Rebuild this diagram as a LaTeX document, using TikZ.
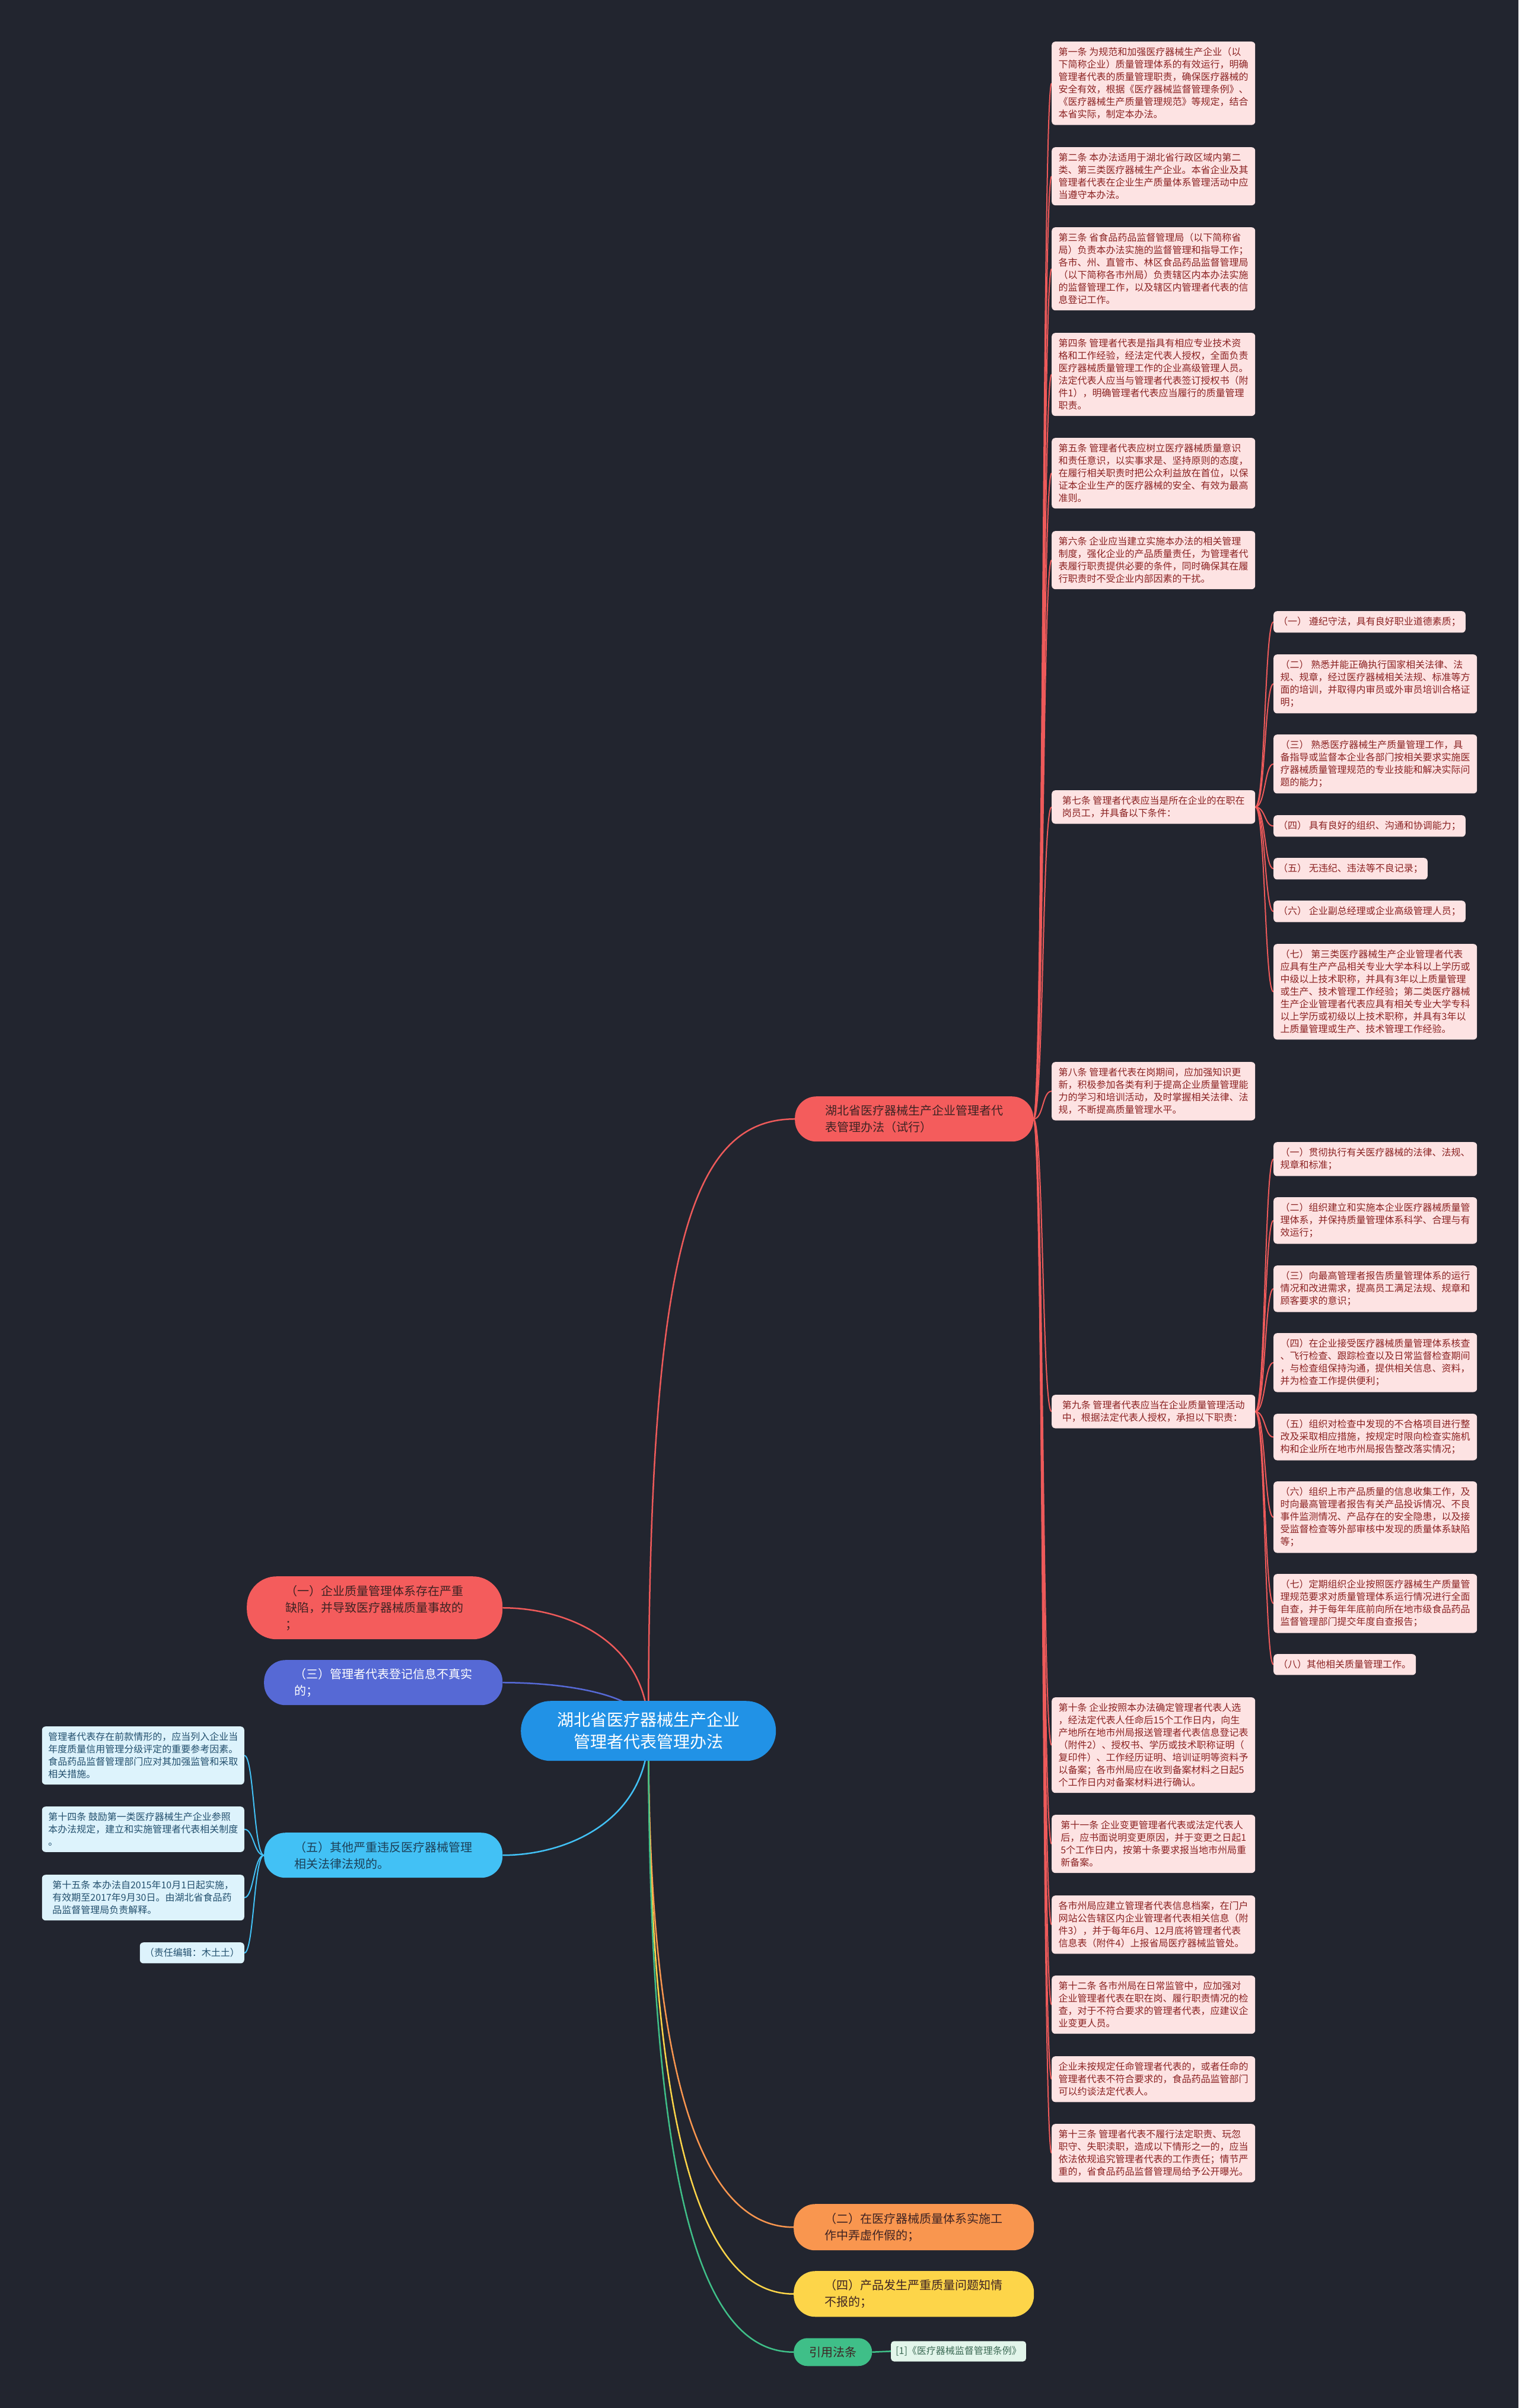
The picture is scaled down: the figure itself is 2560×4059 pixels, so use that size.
\documentclass[tikz,border=0pt]{standalone}
\usepackage{fontspec}
\newfontfamily\cjk{Noto Sans CJK SC}
\definecolor{bgc}{HTML}{22252F}
\definecolor{pinkfill}{HTML}{FDE3E3}
\definecolor{pinktext}{HTML}{8B2222}
\definecolor{redline}{HTML}{EE5A5A}
\definecolor{rednode}{HTML}{F45C5C}
\definecolor{rootblue}{HTML}{2192E6}
\definecolor{indigoc}{HTML}{5669D5}
\definecolor{skyc}{HTML}{42C1F5}
\definecolor{orangec}{HTML}{F9964F}
\definecolor{yellowc}{HTML}{FDD549}
\definecolor{greenc}{HTML}{3FBF88}
\definecolor{cyanfill}{HTML}{DDF3FC}
\definecolor{cyantext}{HTML}{23506E}
\definecolor{mintfill}{HTML}{E2F5EA}
\definecolor{minttext}{HTML}{3D6B56}
\definecolor{darkred}{HTML}{3E2323}
\pgfdeclarelayer{bgl}
\pgfdeclarelayer{edges}
\pgfsetlayers{bgl,edges,main}
\tikzset{
  art/.style={anchor=north west, fill=pinkfill, text=pinktext, rounded corners=6pt,
    inner xsep=8pt, inner ysep=10pt, align=left, font=\cjk\fontsize{16pt}{21pt}\selectfont},
  artw/.style={art, minimum width=343pt},
  note/.style={anchor=north east, fill=cyanfill, text=cyantext, rounded corners=6pt,
    inner xsep=8pt, inner ysep=10pt, align=left, font=\cjk\fontsize{16pt}{21pt}\selectfont},
  notew/.style={note, minimum width=341pt},
  pill/.style={anchor=north west, rounded corners=36pt, inner sep=0pt, align=left,
    font=\cjk\fontsize{20pt}{28pt}\selectfont},
  rl/.style={draw=redline, line width=2pt},
  rootl/.style={line width=2.5pt},
}
\begin{document}
\begin{tikzpicture}[x=1pt,y=-1pt]
\begin{pgfonlayer}{bgl}
\fill[bgc] (0,0) rectangle (2560,4059);
\end{pgfonlayer}
\useasboundingbox (0,0) rectangle (2560,4059);

% root
\node[anchor=north west, fill=rootblue, text=white, rounded corners=50pt, minimum width=430pt,
  minimum height=101pt, align=center, inner sep=0pt, font=\cjk\fontsize{28pt}{37pt}\selectfont]
  (root) at (878,2867) {湖北省医疗器械生产企业\\管理者代表管理办法};

% main branches
\node[pill, fill=rednode, text=darkred, minimum width=402pt, minimum height=76pt] (mr) at (1340,1848)
  {湖北省医疗器械生产企业管理者代\\表管理办法（试行）};
\node[pill, fill=rednode, text=darkred, minimum width=431pt, minimum height=106pt, rounded corners=50pt] (one) at (416,2657)
  {（一）企业质量管理体系存在严重\\缺陷，并导致医疗器械质量事故的\\；};
\node[pill, fill=indigoc, text=white, minimum width=402pt, minimum height=76pt] (three) at (445,2798)
  {（三）管理者代表登记信息不真实\\的；};
\node[pill, fill=skyc, text=cyantext!80!black, minimum width=402pt, minimum height=76pt] (five) at (445,3089)
  {（五）其他严重违反医疗器械管理\\相关法律法规的。};
\node[pill, fill=orangec, text=darkred, minimum width=405pt, minimum height=78pt] (two) at (1338,3715)
  {（二）在医疗器械质量体系实施工\\作中弄虚作假的；};
\node[pill, fill=yellowc, text=darkred, minimum width=405pt, minimum height=77pt] (four) at (1338,3828)
  {（四）产品发生严重质量问题知情\\不报的；};
\node[pill, fill=greenc, text=darkred, minimum width=132pt, minimum height=47pt, rounded corners=23pt, align=center] (cite) at (1338,3941)
  {引用法条};
\node[anchor=north west, fill=mintfill, text=minttext, rounded corners=5pt, inner xsep=8pt, inner ysep=9pt,
  font=\cjk\fontsize{16pt}{21pt}\selectfont] (ref1) at (1502,3946) {[1]《医疗器械监督管理条例》};

% right column
\node[artw] (a1) at (1773,70) {第一条 为规范和加强医疗器械生产企业（以\\下简称企业）质量管理体系的有效运行，明确\\管理者代表的质量管理职责，确保医疗器械的\\安全有效，根据《医疗器械监督管理条例》、\\《医疗器械生产质量管理规范》等规定，结合\\本省实际，制定本办法。};
\node[artw] (a2) at (1773,248) {第二条 本办法适用于湖北省行政区域内第二\\类、第三类医疗器械生产企业。本省企业及其\\管理者代表在企业生产质量体系管理活动中应\\当遵守本办法。};
\node[artw] (a3) at (1773,383) {第三条 省食品药品监督管理局（以下简称省\\局）负责本办法实施的监督管理和指导工作；\\各市、州、直管市、林区食品药品监督管理局\\（以下简称各市州局）负责辖区内本办法实施\\的监督管理工作，以及辖区内管理者代表的信\\息登记工作。};
\node[artw] (a4) at (1773,561) {第四条 管理者代表是指具有相应专业技术资\\格和工作经验，经法定代表人授权，全面负责\\医疗器械质量管理工作的企业高级管理人员。\\法定代表人应当与管理者代表签订授权书（附\\件1），明确管理者代表应当履行的质量管理\\职责。};
\node[artw] (a5) at (1773,738) {第五条 管理者代表应树立医疗器械质量意识\\和责任意识，以实事求是、坚持原则的态度，\\在履行相关职责时把公众利益放在首位，以保\\证本企业生产的医疗器械的安全、有效为最高\\准则。};
\node[artw] (a6) at (1773,895) {第六条 企业应当建立实施本办法的相关管理\\制度，强化企业的产品质量责任，为管理者代\\表履行职责提供必要的条件，同时确保其在履\\行职责时不受企业内部因素的干扰。};
\node[artw] (a7) at (1773,1332) {第七条 管理者代表应当是所在企业的在职在\\岗员工，并具备以下条件：};
\node[artw] (a8) at (1773,1790) {第八条 管理者代表在岗期间，应加强知识更\\新，积极参加各类有利于提高企业质量管理能\\力的学习和培训活动，及时掌握相关法律、法\\规，不断提高质量管理水平。};
\node[artw] (a9) at (1773,2351) {第九条 管理者代表应当在企业质量管理活动\\中，根据法定代表人授权，承担以下职责：};
\node[artw] (a10) at (1773,2861) {第十条 企业按照本办法确定管理者代表人选\\，经法定代表人任命后15个工作日内，向生\\产地所在地市州局报送管理者代表信息登记表\\（附件2）、授权书、学历或技术职称证明（\\复印件）、工作经历证明、培训证明等资料予\\以备案；各市州局应在收到备案材料之日起5\\个工作日内对备案材料进行确认。};
\node[artw] (a11) at (1773,3059) {第十一条 企业变更管理者代表或法定代表人\\后，应书面说明变更原因，并于变更之日起1\\5个工作日内，按第十条要求报当地市州局重\\新备案。};
\node[artw] (a12) at (1773,3195) {各市州局应建立管理者代表信息档案，在门户\\网站公告辖区内企业管理者代表相关信息（附\\件3），并于每年6月、12月底将管理者代表\\信息表（附件4）上报省局医疗器械监管处。};
\node[artw] (a13) at (1773,3330) {第十二条 各市州局在日常监管中，应加强对\\企业管理者代表在职在岗、履行职责情况的检\\查，对于不符合要求的管理者代表，应建议企\\业变更人员。};
\node[artw] (a14) at (1773,3466) {企业未按规定任命管理者代表的，或者任命的\\管理者代表不符合要求的，食品药品监管部门\\可以约谈法定代表人。};
\node[artw] (a15) at (1773,3580) {第十三条 管理者代表不履行法定职责、玩忽\\职守、失职渎职，造成以下情形之一的，应当\\依法依规追究管理者代表的工作责任；情节严\\重的，省食品药品监督管理局给予公开曝光。};

% article 7 items
\node[art] (s1) at (2147,1030) {（一） 遵纪守法，具有良好职业道德素质；};
\node[artw] (s2) at (2147,1103) {（二） 熟悉并能正确执行国家相关法律、法\\规、规章，经过医疗器械相关法规、标准等方\\面的培训，并取得内审员或外审员培训合格证\\明；};
\node[artw] (s3) at (2147,1238) {（三） 熟悉医疗器械生产质量管理工作，具\\备指导或监督本企业各部门按相关要求实施医\\疗器械质量管理规范的专业技能和解决实际问\\题的能力；};
\node[art] (s4) at (2147,1374) {（四） 具有良好的组织、沟通和协调能力；};
\node[art] (s5) at (2147,1446) {（五） 无违纪、违法等不良记录；};
\node[art] (s6) at (2147,1518) {（六） 企业副总经理或企业高级管理人员；};
\node[artw] (s7) at (2147,1591) {（七） 第三类医疗器械生产企业管理者代表\\应具有生产产品相关专业大学本科以上学历或\\中级以上技术职称，并具有3年以上质量管理\\或生产、技术管理工作经验；第二类医疗器械\\生产企业管理者代表应具有相关专业大学专科\\以上学历或初级以上技术职称，并具有3年以\\上质量管理或生产、技术管理工作经验。};

% article 9 items
\node[artw] (t1) at (2147,1925) {（一）贯彻执行有关医疗器械的法律、法规、\\规章和标准；};
\node[artw] (t2) at (2147,2018) {（二）组织建立和实施本企业医疗器械质量管\\理体系，并保持质量管理体系科学、合理与有\\效运行；};
\node[artw] (t3) at (2147,2133) {（三）向最高管理者报告质量管理体系的运行\\情况和改进需求，提高员工满足法规、规章和\\顾客要求的意识；};
\node[artw] (t4) at (2147,2247) {（四）在企业接受医疗器械质量管理体系核查\\、飞行检查、跟踪检查以及日常监督检查期间\\，与检查组保持沟通，提供相关信息、资料，\\并为检查工作提供便利；};
\node[artw] (t5) at (2147,2383) {（五）组织对检查中发现的不合格项目进行整\\改及采取相应措施，按规定时限向检查实施机\\构和企业所在地市州局报告整改落实情况；};
\node[artw] (t6) at (2147,2497) {（六）组织上市产品质量的信息收集工作，及\\时向最高管理者报告有关产品投诉情况、不良\\事件监测情况、产品存在的安全隐患，以及接\\受监督检查等外部审核中发现的质量体系缺陷\\等；};
\node[artw] (t7) at (2147,2653) {（七）定期组织企业按照医疗器械生产质量管\\理规范要求对质量管理体系运行情况进行全面\\自查，并于每年年底前向所在地市级食品药品\\监督管理部门提交年度自查报告；};
\node[art] (t8) at (2147,2788) {（八）其他相关质量管理工作。};

% left notes
\node[notew] (n1) at (412,2910) {管理者代表存在前款情形的，应当列入企业当\\年度质量信用管理分级评定的重要参考因素。\\食品药品监督管理部门应对其加强监管和采取\\相关措施。};
\node[notew] (n2) at (412,3045) {第十四条 鼓励第一类医疗器械生产企业参照\\本办法规定，建立和实施管理者代表相关制度\\。};
\node[notew] (n3) at (412,3160) {第十五条 本办法自2015年10月1日起实施，\\有效期至2017年9月30日。由湖北省食品药\\品监督管理局负责解释。};
\node[note] (n4) at (412,3274) {（责任编辑：木土土）};

\begin{pgfonlayer}{edges}
% root connectors
\draw[rootl, redline] (root.center) .. controls +(0,-800) and +(-180,0) .. (mr.west);
\draw[rootl, redline] (root.center) .. controls +(0,-150) and +(110,0) .. (one.east);
\draw[rootl, indigoc] (root.center) .. controls +(0,-60) and +(110,0) .. (three.east);
\draw[rootl, skyc] (root.center) .. controls +(0,150) and +(110,0) .. (five.east);
\draw[rootl, orangec] (root.center) .. controls +(0,600) and +(-150,0) .. (two.west);
\draw[rootl, yellowc] (root.center) .. controls +(0,700) and +(-150,0) .. (four.west);
\draw[rootl, greenc] (root.center) .. controls +(0,800) and +(-150,0) .. (cite.west);
\draw[rootl, greenc] (cite.east) -- (ref1.west);
% right column
\foreach \n in {a1,a2,a3,a4,a5,a6,a7,a8,a9,a10,a11,a12,a13,a14,a15}
  \draw[rl] (mr.east) .. controls +(17,0) and +(-16,0) .. (\n.west);
\foreach \n in {s1,s2,s3,s4,s5,s6,s7}
  \draw[rl] (a7.east) .. controls +(17,0) and +(-15,0) .. (\n.west);
\foreach \n in {t1,t2,t3,t4,t5,t6,t7,t8}
  \draw[rl] (a9.east) .. controls +(17,0) and +(-15,0) .. (\n.west);
\foreach \n in {n1,n2,n3,n4}
  \draw[line width=2pt, skyc] (five.west) .. controls +(-17,0) and +(16,0) .. (\n.east);
\end{pgfonlayer}
\end{tikzpicture}
\end{document}
